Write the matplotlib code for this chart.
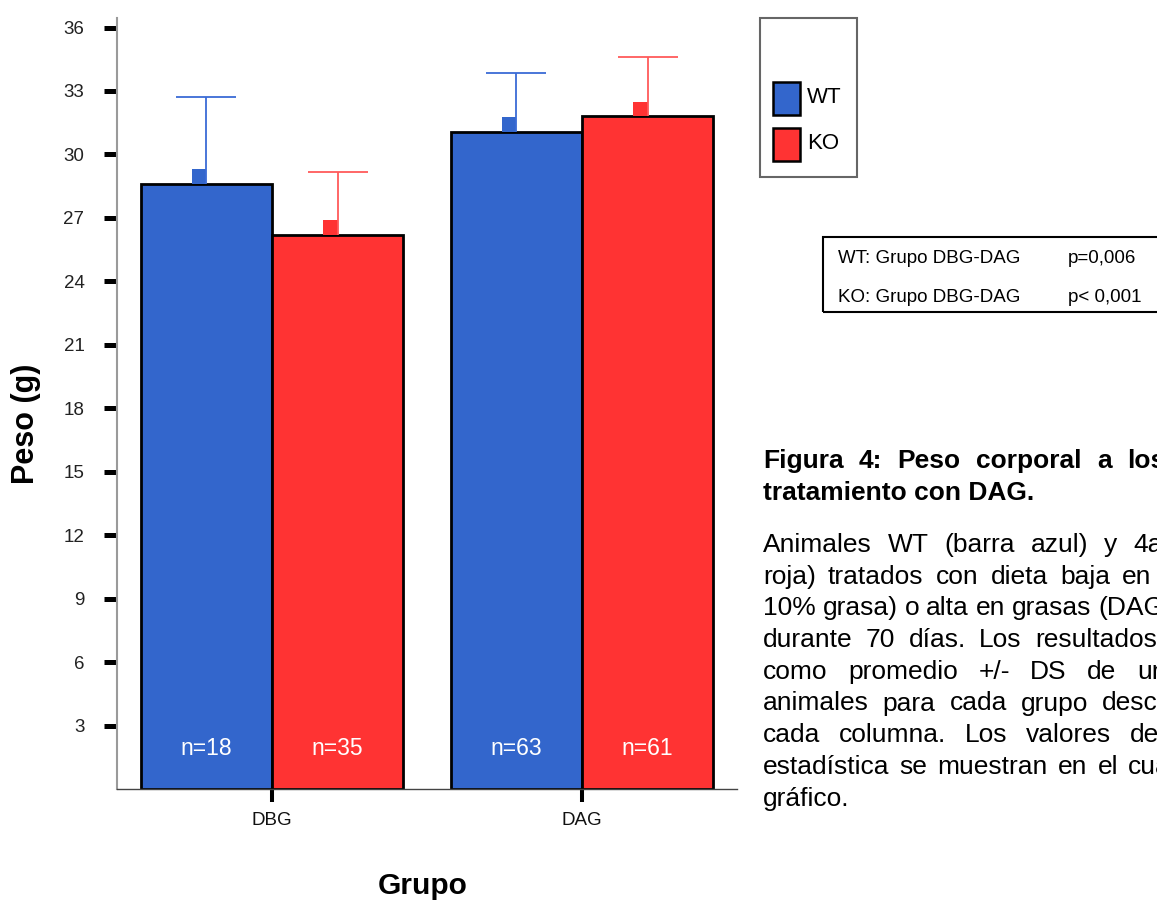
import matplotlib
matplotlib.use("Agg")
import matplotlib.pyplot as plt
from matplotlib.patches import Rectangle
import numpy as np

plt.rcParams["font.family"] = ["Liberation Sans", "DejaVu Sans"]

# Body weight per diet group
groups = ["DBG", "DAG"]
series = ["WT", "KO"]
colors = ["#3366CC", "#FF3333"]
err_colors = ["#3A6BD6", "#FF5A5A"]
wt_mean = [28.6, 31.05]
ko_mean = [26.2, 31.8]
wt_sd = [4.1, 2.8]
ko_sd = [2.95, 2.8]
wt_n = [18, 63]
ko_n = [35, 61]

stats_rows = ["WT: Grupo DBG-DAG", "KO: Grupo DBG-DAG"]
stats_p = ["p=0,006", "p< 0,001"]

W, H = 1157, 901


def fx(x):
    return x / W


def fy(y):
    return 1 - y / H


fig = plt.figure(figsize=(W / 100, H / 100), dpi=100)
ax = fig.add_axes([fx(117), fy(789), fx(737) - fx(117), fy(18) - fy(789)])

bw = 0.4226
xg = np.arange(len(groups))
offsets = [-bw / 2, bw / 2]
means = [wt_mean, ko_mean]
sds = [wt_sd, ko_sd]
ns = [wt_n, ko_n]

for i in range(2):
    xs = xg + offsets[i]
    ax.bar(xs, means[i], width=bw, color=colors[i], edgecolor="black",
           linewidth=2, zorder=2)
    # small square marker sitting on top of each bar
    ax.bar(xs - 0.048, 0.7, width=0.048, bottom=means[i], align="edge",
           color=colors[i], linewidth=0, zorder=3)
    _, caps, _ = ax.errorbar(xs, means[i], yerr=[np.zeros(len(xs)), sds[i]],
                             fmt="none", ecolor=err_colors[i], elinewidth=1.3,
                             capsize=21.6, capthick=1.3, zorder=3)
    caps[0].set_visible(False)  # only the upper whisker gets a cap
    for x, n in zip(xs, ns[i]):
        ax.text(x, 1.9, f"n={n}", color="white", ha="center", va="center",
                fontsize=16.5, zorder=4)

ax.set_xlim(-0.5, 1.5)
ax.set_ylim(0, 36.45)
ax.set_yticks(np.arange(3, 37, 3))
ax.set_xticks(xg)
ax.set_xticklabels(groups)
ax.tick_params(axis="y", direction="out", length=9.4, width=3.6,
               color="black", pad=14, labelsize=13.5, labelcolor="#222222")
ax.tick_params(axis="x", direction="out", length=9.4, width=2.9,
               color="black", pad=7, labelsize=13.5, labelcolor="#111111")
for s in ["top", "right"]:
    ax.spines[s].set_visible(False)
ax.spines["left"].set_color("#9a9a9a")
ax.spines["left"].set_linewidth(1.5)
ax.spines["bottom"].set_color("#444444")
ax.spines["bottom"].set_linewidth(1.0)

fig.text(fx(26), fy(424), "Peso (g)", rotation=90, ha="center", va="center",
         fontsize=22, fontweight="bold")
fig.text(fx(423), fy(886), "Grupo", ha="center", va="center",
         fontsize=21.5, fontweight="bold")

# legend box
fig.add_artist(Rectangle((fx(760), fy(177)), fx(857) - fx(760), fy(18) - fy(177),
                         transform=fig.transFigure, fill=False,
                         edgecolor="#666666", linewidth=1.5))
for i, (lab, c) in enumerate(zip(series, colors)):
    top = 82 + i * 46
    fig.add_artist(Rectangle((fx(773), fy(top + 33)), fx(800) - fx(773),
                             fy(top) - fy(top + 33), transform=fig.transFigure,
                             facecolor=c, edgecolor="black", linewidth=1.8))
    fig.text(fx(807), fy(top + 21), lab, fontsize=16, va="baseline")

# statistics box
fig.add_artist(Rectangle((fx(823), fy(312)), fx(1170) - fx(823), fy(237) - fy(312),
                         transform=fig.transFigure, fill=False,
                         edgecolor="black", linewidth=1.5))
for i, (row, p) in enumerate(zip(stats_rows, stats_p)):
    yb = 263 + i * 39
    fig.text(fx(838), fy(yb), row, fontsize=13.5, va="baseline")
    fig.text(fx(1068), fy(yb), p, fontsize=13.5, va="baseline")

# caption
renderer = fig.canvas.get_renderer()


def justify(words, x0, x_last, y, **kw):
    arts = [fig.text(0, fy(y), w, va="baseline", **kw) for w in words]
    widths = [a.get_window_extent(renderer).width for a in arts]
    gap = (x_last - x0 - sum(widths[:-1])) / (len(words) - 1)
    x = x0
    for a, wd in zip(arts, widths):
        a.set_x(fx(x))
        x += wd + gap


cap_kw = dict(fontsize=19)
justify("Figura 4: Peso corporal a los".split(), 763, 1127, 468,
        fontweight="bold", **cap_kw)
fig.text(fx(763), fy(500), "tratamiento con DAG.", va="baseline",
         fontweight="bold", **cap_kw)

body = [
    ("Animales WT (barra azul) y 4aKO", 1133),
    ("roja) tratados con dieta baja en", 1122),
    ("10% grasa) o alta en grasas (DAG,", 1098),
    ("durante 70 días. Los resultados", 1035),
    ("como promedio +/- DS de un", 1137),
    ("animales para cada grupo descrito", 1102),
    ("cada columna. Los valores de", 1130),
    ("estadística se muestran en el cuadro", 1128),
]
for k, (line, xl) in enumerate(body):
    justify(line.split(), 763, xl, 552 + k * 31.7, **cap_kw)
fig.text(fx(763), fy(552 + 8 * 31.7), "gráfico.", va="baseline", **cap_kw)

fig.savefig("out.png", dpi=100)
